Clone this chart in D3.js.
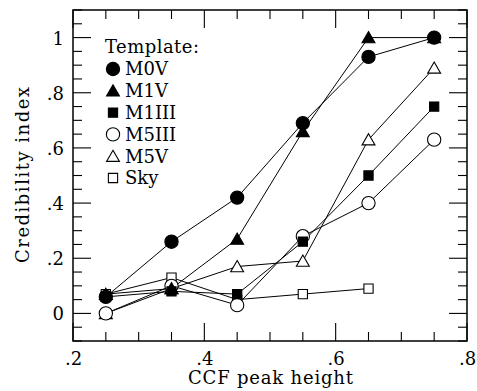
<!DOCTYPE html>
<html>
<head>
<meta charset="utf-8">
<script src="https://cdn.jsdelivr.net/npm/d3@7"></script>
<style>
  html, body { margin: 0; padding: 0; background: #fff; }
  svg text { font-family: "DejaVu Serif", serif; fill: #000; }
</style>
</head>
<body>
<svg id="chart" width="477" height="391"></svg>
<script>
// CCF peak height bins
const ccf = [0.25, 0.35, 0.45, 0.55, 0.65, 0.75];
// Credibility index per template
const m0v   = [0.06, 0.26, 0.42, 0.69, 0.93, 1.00];
const m1v   = [0.07, 0.09, 0.27, 0.66, 1.00, 1.00];
const m1iii = [0.06, 0.08, 0.07, 0.26, 0.50, 0.75];
const m5iii = [0.00, 0.10, 0.03, 0.28, 0.40, 0.63];
const m5v   = [0.00, 0.09, 0.17, 0.19, 0.63, 0.89];
const sky   = [0.07, 0.13, 0.05, 0.07, 0.09];

const templateNames = ["M0V", "M1V", "M1III", "M5III", "M5V", "Sky"];

const xTickValues = [0.2, 0.4, 0.6, 0.8];
const xTickLabels = [".2", ".4", ".6", ".8"];
const yTickValues = [0, 0.2, 0.4, 0.6, 0.8, 1];
const yTickLabels = ["0", ".2", ".4", ".6", ".8", "1"];

const plotL = 73, plotR = 467, plotT = 10, plotB = 341;
const serif = '"DejaVu Serif", serif';

const svg = d3.select("#chart");
const x = d3.scaleLinear().domain([0.2, 0.8]).range([plotL, plotR]);
const y = d3.scaleLinear().domain([-0.1, 1.1]).range([plotB, plotT]);

const minorX = d3.range(0.2, 0.8001, 0.05).map(v => +v.toFixed(2));
const minorY = d3.range(-0.1, 1.1001, 0.05).map(v => +v.toFixed(2));
const isMajor = (v, arr) => arr.some(t => Math.abs(t - v) < 1e-6);

const majorLen = 18, minorLen = 9;

// Tick marks on all four sides, pointing inward
function tickLen(v, majors) { return isMajor(v, majors) ? majorLen : minorLen; }

const ticks = svg.append("g").attr("stroke", "#000").attr("stroke-width", 1.1);
minorX.forEach(v => {
  const L = tickLen(v, xTickValues);
  ticks.append("line").attr("x1", x(v)).attr("x2", x(v)).attr("y1", plotB).attr("y2", plotB - L);
  ticks.append("line").attr("x1", x(v)).attr("x2", x(v)).attr("y1", plotT).attr("y2", plotT + L);
});
minorY.forEach(v => {
  const L = tickLen(v, yTickValues);
  ticks.append("line").attr("y1", y(v)).attr("y2", y(v)).attr("x1", plotL).attr("x2", plotL + L);
  ticks.append("line").attr("y1", y(v)).attr("y2", y(v)).attr("x1", plotR).attr("x2", plotR - L);
});

// Tick labels via d3 axes (their own tick lines hidden)
const xAxis = d3.axisBottom(x).tickValues(xTickValues).tickSize(0).tickPadding(0)
  .tickFormat((d, i) => xTickLabels[i]);
const gx = svg.append("g").attr("transform", `translate(0,${plotB})`).call(xAxis);
gx.select(".domain").remove();
gx.attr("font-family", serif);
gx.selectAll("text").attr("dy", null).attr("y", 24).style("font-size", "18px")
  .style("font-family", serif);

const yAxis = d3.axisLeft(y).tickValues(yTickValues).tickSize(0).tickPadding(0)
  .tickFormat((d, i) => yTickLabels[i]);
const gy = svg.append("g").attr("transform", `translate(${plotL},0)`).call(yAxis);
gy.select(".domain").remove();
gy.attr("font-family", serif);
gy.selectAll("text").attr("x", -9).attr("dy", "0.36em").style("font-size", "18px")
  .style("font-family", serif);

// Axis titles
svg.append("text").attr("x", 270.5).attr("y", 384)
  .attr("text-anchor", "middle").style("font-size", "18px")
  .attr("textLength", 165).attr("lengthAdjust", "spacing").text("CCF peak height");
svg.append("text").attr("transform", "translate(29,175) rotate(-90)")
  .attr("text-anchor", "middle").style("font-size", "18px")
  .attr("textLength", 176).attr("lengthAdjust", "spacing").text("Credibility index");

// Frame
svg.append("rect").attr("x", plotL).attr("y", plotT).attr("width", plotR - plotL).attr("height", plotB - plotT)
  .attr("fill", "none").attr("stroke", "#000").attr("stroke-width", 1.5);

// Marker shapes
const shapes = {
  circle:   d3.symbol().type(d3.symbolCircle).size(138),
  triangle: d3.symbol().type(d3.symbolTriangle).size(72),
  square:   d3.symbol().type(d3.symbolSquare).size(85)
};

const series = [
  { name: templateNames[5], vals: sky,   shape: "square",   filled: false },
  { name: templateNames[4], vals: m5v,   shape: "triangle", filled: false },
  { name: templateNames[3], vals: m5iii, shape: "circle",   filled: false },
  { name: templateNames[2], vals: m1iii, shape: "square",   filled: true },
  { name: templateNames[1], vals: m1v,   shape: "triangle", filled: true },
  { name: templateNames[0], vals: m0v,   shape: "circle",   filled: true }
];

const line = d3.line().x(d => x(d[0])).y(d => y(d[1]));

// Connecting lines
series.forEach(s => {
  const pts = s.vals.map((v, i) => [ccf[i], v]);
  svg.append("path").attr("d", line(pts)).attr("fill", "none")
    .attr("stroke", "#000").attr("stroke-width", 1);
});

function drawMarker(g, s, cx, cy) {
  const off = s.shape === "triangle" ? 1.5 : 0;
  g.append("path").attr("d", shapes[s.shape]())
    .attr("transform", `translate(${cx},${cy + off})`)
    .attr("fill", s.filled ? "#000" : "#fff")
    .attr("stroke", "#000").attr("stroke-width", 1.1);
}

// Markers
const mk = svg.append("g");
series.forEach(s => {
  s.vals.forEach((v, i) => drawMarker(mk, s, x(ccf[i]), y(v)));
});

// Legend
const lg = svg.append("g");
lg.append("text").attr("x", 105).attr("y", 53).style("font-size", "18px")
  .attr("textLength", 94).attr("lengthAdjust", "spacing").text("Template:");
series.slice().reverse().forEach((s, i) => {
  const cy = 69 + i * 21.8;
  drawMarker(lg, s, 113, cy);
  lg.append("text").attr("x", 125).attr("y", cy).attr("dy", "0.36em")
    .style("font-size", "18px").text(s.name);
});
</script>
</body>
</html>
